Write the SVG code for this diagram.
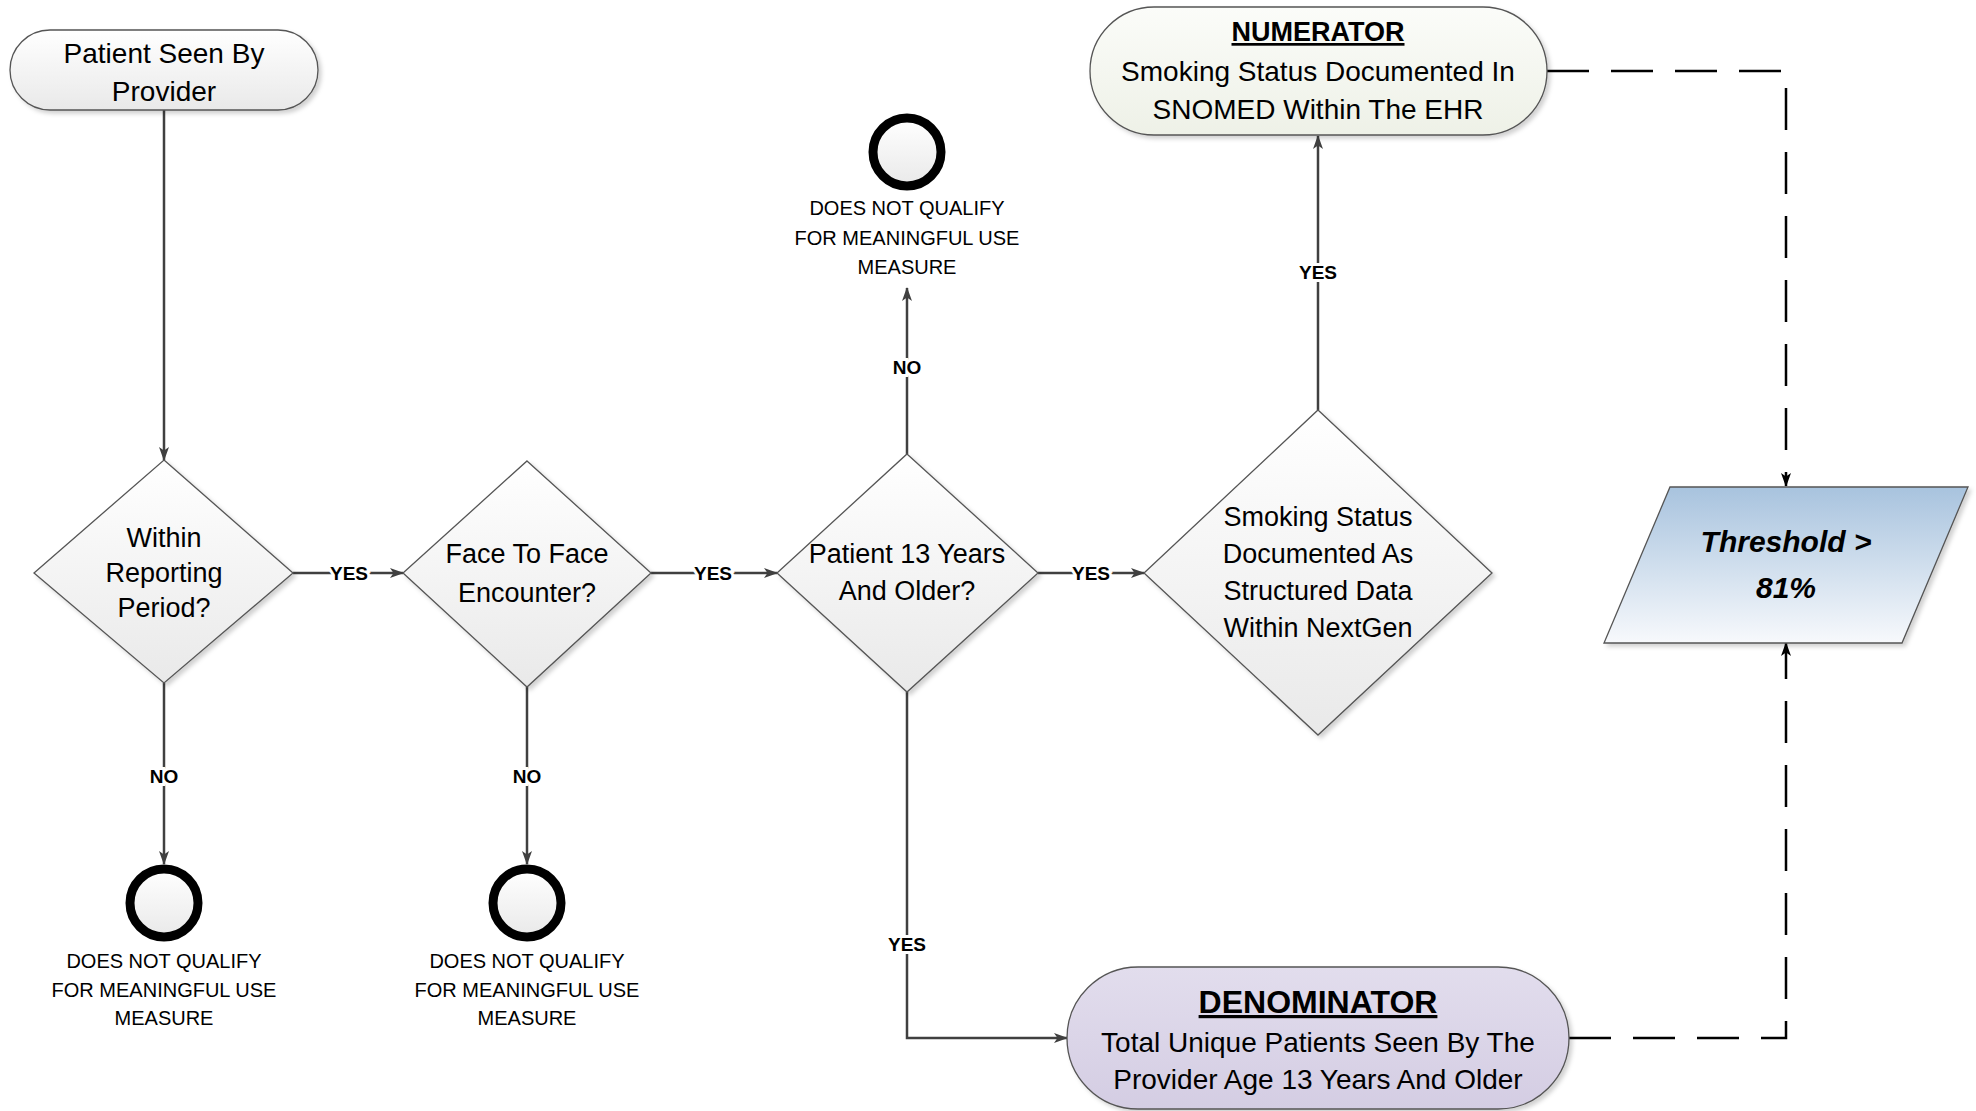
<svg xmlns="http://www.w3.org/2000/svg" width="1976" height="1111" viewBox="0 0 1976 1111">
<defs>
<linearGradient id="gGrey" x1="0" y1="0" x2="0" y2="1"><stop offset="0" stop-color="#ffffff"/><stop offset="1" stop-color="#e9e9e9"/></linearGradient>
<linearGradient id="gGreen" x1="0" y1="0" x2="0" y2="1"><stop offset="0" stop-color="#fbfcf9"/><stop offset="1" stop-color="#eef1e7"/></linearGradient>
<linearGradient id="gPurple" x1="0" y1="0" x2="0" y2="1"><stop offset="0" stop-color="#e2dded"/><stop offset="1" stop-color="#d4cde3"/></linearGradient>
<linearGradient id="gBlue" x1="0" y1="0" x2="0" y2="1"><stop offset="0" stop-color="#a8c3de"/><stop offset="1" stop-color="#f7f9fc"/></linearGradient>
<filter id="sh" x="-10%" y="-10%" width="130%" height="130%"><feDropShadow dx="3" dy="3" stdDeviation="2" flood-color="#000" flood-opacity="0.18"/></filter>
<marker id="arr" viewBox="0 0 14 10" refX="13" refY="5" markerWidth="14" markerHeight="10" markerUnits="userSpaceOnUse" orient="auto"><path d="M0,0 L14,5 L0,10 L3.5,5 z" fill="#404040"/></marker>
<marker id="arrK" viewBox="0 0 14 10" refX="13" refY="5" markerWidth="14" markerHeight="10" markerUnits="userSpaceOnUse" orient="auto"><path d="M0,0 L14,5 L0,10 L3.5,5 z" fill="#000"/></marker>
<style>
.shape{stroke:#555;stroke-width:1.3;filter:url(#sh)}
.t{font-family:"Liberation Sans",Arial,sans-serif;font-size:28px;fill:#000;text-anchor:middle}
.d{font-family:"Liberation Sans",Arial,sans-serif;font-size:27px;fill:#000;text-anchor:middle}
.h{font-family:"Liberation Sans",Arial,sans-serif;font-weight:bold;fill:#000;text-anchor:middle;text-decoration:underline}
.s{font-family:"Liberation Sans",Arial,sans-serif;font-size:20px;fill:#000;text-anchor:middle}
.lbl{font-family:"Liberation Sans",Arial,sans-serif;font-size:19px;font-weight:bold;fill:#000;text-anchor:middle;stroke:#fff;stroke-width:6;paint-order:stroke}
.c{fill:none;stroke:#404040;stroke-width:2.5;marker-end:url(#arr)}
.dash{fill:none;stroke:#000;stroke-width:2.5;stroke-dasharray:42 22;marker-end:url(#arrK)}
.end{fill:url(#gGrey);stroke:#000;stroke-width:9}
</style>
</defs>
<rect width="1976" height="1111" fill="#fff"/>

<g id="connectors">
<path class="c" d="M164,110 V460"/>
<path class="c" d="M293,573 H403"/>
<path class="c" d="M651,573 H777"/>
<path class="c" d="M1038,573 H1144"/>
<path class="c" d="M164,683 V864"/>
<path class="c" d="M527,687 V864"/>
<path class="c" d="M907,454 V288"/>
<path class="c" d="M907,692 V1038 H1067"/>
<path class="c" d="M1318,410 V136"/>
<path class="dash" d="M1547,71 H1786 V486"/>
<path class="dash" d="M1569,1038 H1786 V643"/>
<text class="lbl" x="349" y="580">YES</text>
<text class="lbl" x="713" y="580">YES</text>
<text class="lbl" x="1091" y="580">YES</text>
<text class="lbl" x="164" y="783">NO</text>
<text class="lbl" x="527" y="783">NO</text>
<text class="lbl" x="907" y="374">NO</text>
<text class="lbl" x="907" y="951">YES</text>
<text class="lbl" x="1318" y="279">YES</text>
</g>

<g id="start">
<rect class="shape" x="10" y="30" width="308" height="80" rx="40" fill="url(#gGrey)"/>
<text class="t" x="164" y="63">Patient Seen By</text>
<text class="t" x="164" y="101">Provider</text>
</g>

<g id="d1">
<polygon class="shape" points="164,460 293,573 164,683 34,573" fill="url(#gGrey)"/>
<text class="d" x="164" y="547">Within</text>
<text class="d" x="164" y="582">Reporting</text>
<text class="d" x="164" y="617">Period?</text>
</g>

<g id="d2">
<polygon class="shape" points="527,461 651,573 527,687 403,573" fill="url(#gGrey)"/>
<text class="d" x="527" y="563">Face To Face</text>
<text class="d" x="527" y="602">Encounter?</text>
</g>

<g id="d3">
<polygon class="shape" points="907,454 1038,573 907,692 777,573" fill="url(#gGrey)"/>
<text class="d" x="907" y="563">Patient 13 Years</text>
<text class="d" x="907" y="600">And Older?</text>
</g>

<g id="d4">
<polygon class="shape" points="1318,410 1492,573 1318,735 1144,573" fill="url(#gGrey)"/>
<text class="d" x="1318" y="526" font-size="29">Smoking Status</text>
<text class="d" x="1318" y="563" font-size="29">Documented As</text>
<text class="d" x="1318" y="600" font-size="29">Structured Data</text>
<text class="d" x="1318" y="637" font-size="29">Within NextGen</text>
</g>

<g id="end1">
<circle class="end" cx="164" cy="903" r="34"/>
<text class="s" x="164" y="968">DOES NOT QUALIFY</text>
<text class="s" x="164" y="997">FOR MEANINGFUL USE</text>
<text class="s" x="164" y="1025">MEASURE</text>
</g>

<g id="end2">
<circle class="end" cx="527" cy="903" r="34"/>
<text class="s" x="527" y="968">DOES NOT QUALIFY</text>
<text class="s" x="527" y="997">FOR MEANINGFUL USE</text>
<text class="s" x="527" y="1025">MEASURE</text>
</g>

<g id="end3">
<circle class="end" cx="907" cy="152" r="34"/>
<text class="s" x="907" y="215">DOES NOT QUALIFY</text>
<text class="s" x="907" y="245">FOR MEANINGFUL USE</text>
<text class="s" x="907" y="274">MEASURE</text>
</g>

<g id="numerator">
<rect class="shape" x="1090" y="7" width="457" height="128" rx="64" fill="url(#gGreen)"/>
<text class="h" x="1318" y="41" font-size="27">NUMERATOR</text>
<text class="t" x="1318" y="81" font-size="28.5">Smoking Status Documented In</text>
<text class="t" x="1318" y="119" font-size="28.5">SNOMED Within The EHR</text>
</g>

<g id="denominator">
<rect class="shape" x="1067" y="967" width="502" height="142" rx="71" fill="url(#gPurple)"/>
<text class="h" x="1318" y="1013" font-size="32">DENOMINATOR</text>
<text class="t" x="1318" y="1052">Total Unique Patients Seen By The</text>
<text class="t" x="1318" y="1089">Provider Age 13 Years And Older</text>
</g>

<g id="threshold">
<polygon class="shape" points="1670,487 1968,487 1902,643 1604,643" fill="url(#gBlue)"/>
<text x="1786" y="552" font-family="Liberation Sans, Arial, sans-serif" font-size="30" font-weight="bold" font-style="italic" text-anchor="middle">Threshold &gt;</text>
<text x="1786" y="598" font-family="Liberation Sans, Arial, sans-serif" font-size="30" font-weight="bold" font-style="italic" text-anchor="middle">81%</text>
</g>
</svg>
